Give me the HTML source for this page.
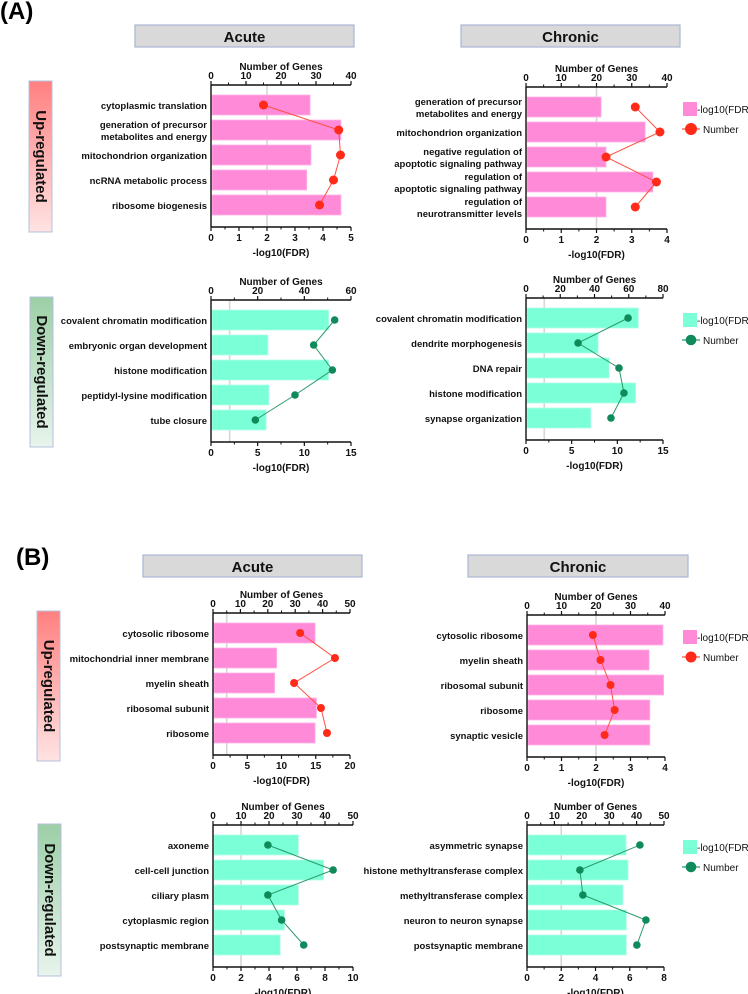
<!DOCTYPE html>
<html><head><meta charset="utf-8">
<style>
html,body{margin:0;padding:0;background:#fff;}
svg{display:block;font-family:"Liberation Sans",Arial,sans-serif;}
.cat{font-size:9.5px;font-weight:bold;fill:#111;}
.tk{font-size:10px;font-weight:bold;fill:#111;}
.ttl{font-size:10px;font-weight:bold;fill:#111;}
.leg{font-size:10px;fill:#111;}
</style></head>
<body>
<svg id="fig" width="748" height="994" viewBox="0 0 748 994" xmlns="http://www.w3.org/2000/svg">
  <text x="0" y="19" font-size="24" font-weight="bold">(A)</text>
  <text x="16" y="565" font-size="24" font-weight="bold">(B)</text>
  <defs>
    <linearGradient id="gUp" x1="0" y1="0" x2="0" y2="1"><stop offset="0" stop-color="#ff8080"/><stop offset="1" stop-color="#ffe3e3"/></linearGradient>
    <linearGradient id="gDn" x1="0" y1="0" x2="0" y2="1"><stop offset="0" stop-color="#9ccfa6"/><stop offset="1" stop-color="#e8f4ec"/></linearGradient>
  </defs>
  <g id="layer"></g>
</svg>
<script>
// ---- data (panel A: biological process; panel B: cellular component) ----
const aAcuteUpCats = ["cytoplasmic translation","generation of precursor|metabolites and energy","mitochondrion organization","ncRNA metabolic process","ribosome biogenesis"];
const aAcuteUpFdr = [3.54,4.64,3.57,3.42,4.64];
const aAcuteUpNum = [15,36.5,37,35,31];
const aChronicUpCats = ["generation of precursor|metabolites and energy","mitochondrion organization","negative regulation of|apoptotic signaling pathway","regulation of|apoptotic signaling pathway","regulation of|neurotransmitter levels"];
const aChronicUpFdr = [2.13,3.38,2.27,3.6,2.27];
const aChronicUpNum = [31,38,22.7,37,31];
const aAcuteDnCats = ["covalent chromatin modification","embryonic organ development","histone modification","peptidyl-lysine modification","tube closure"];
const aAcuteDnFdr = [12.6,6.1,12.6,6.2,5.9];
const aAcuteDnNum = [53,44,52,36,19];
const aChronicDnCats = ["covalent chromatin modification","dendrite morphogenesis","DNA repair","histone modification","synapse organization"];
const aChronicDnFdr = [12.3,7.9,9.1,12.0,7.1];
const aChronicDnNum = [59.6,30.4,54.3,57.2,49.6];
const bAcuteUpCats = ["cytosolic ribosome","mitochondrial inner membrane","myelin sheath","ribosomal subunit","ribosome"];
const bAcuteUpFdr = [14.9,9.3,9.0,15.1,14.9];
const bAcuteUpNum = [31.8,44.5,29.6,39.4,41.6];
const bChronicUpCats = ["cytosolic ribosome","myelin sheath","ribosomal subunit","ribosome","synaptic vesicle"];
const bChronicUpFdr = [3.94,3.54,3.96,3.56,3.56];
const bChronicUpNum = [19.1,21.3,24.2,25.4,22.5];
const bAcuteDnCats = ["axoneme","cell-cell junction","ciliary plasm","cytoplasmic region","postsynaptic membrane"];
const bAcuteDnFdr = [6.1,7.9,6.1,5.1,4.8];
const bAcuteDnNum = [19.6,42.9,19.6,24.5,32.4];
const bChronicDnCats = ["asymmetric synapse","histone methyltransferase complex","methyltransferase complex","neuron to neuron synapse","postsynaptic membrane"];
const bChronicDnFdr = [5.78,5.9,5.6,5.8,5.8];
const bChronicDnNum = [41.2,19.3,20.4,43.4,40.1];
// axis tick labels
const ticksNum40 = [0,10,20,30,40];
const ticksNum60 = [0,20,40,60];
const ticksNum80 = [0,20,40,60,80];
const ticksNum50 = [0,10,20,30,40,50];
const ticksFdr5 = [0,1,2,3,4,5];
const ticksFdr4 = [0,1,2,3,4];
const ticksFdr15 = [0,5,10,15];
const ticksFdr20 = [0,5,10,15,20];
const ticksFdr10 = [0,2,4,6,8,10];
const ticksFdr8 = [0,2,4,6,8];
const fdrThreshold = 2;

const NS="http://www.w3.org/2000/svg";
const L=document.getElementById('layer');
function mk(tag,attrs,parent){const e=document.createElementNS(NS,tag);for(const k in attrs)e.setAttribute(k,attrs[k]);(parent||L).appendChild(e);return e;}

function header(x,y,w,label,name){
  const g=mk('g',{});
  
  
  mk('rect',{x:x,y:y,width:w,height:22,fill:'#d9d9d9',stroke:'#a9b6d3','stroke-width':1.2},g);
  const t=mk('text',{x:x+w/2,y:y+17,'text-anchor':'middle','font-size':15,'font-weight':'bold',fill:'#111'},g);
  t.textContent=label;
}
function sideLabel(x,y,w,h,grad,label,name){
  const g=mk('g',{});
  
  
  mk('rect',{x:x,y:y,width:w,height:h,fill:'url(#'+grad+')',stroke:'#b3c0dc','stroke-width':1},g);
  const cx=x+w/2, cy=y+h/2;
  const t=mk('text',{x:cx,y:cy,'text-anchor':'middle','dominant-baseline':'central','font-size':15,'font-weight':'bold',fill:'#111',transform:'rotate(90 '+cx+' '+cy+')'},g);
  t.textContent=label;
}

function panel(o){
  const g=mk('g',{});
  
  
  const x0=o.x0,x1=o.x1,W=x1-x0,r1=o.row1;
  const xF=v=>x0+v/o.fdrMax*W;
  const xN=v=>x0+v/o.numMax*W;
  const yR=i=>r1+i*25;
  const topY=r1-20, botY=yR(4)+22;
  const th=mk('line',{x1:xF(fdrThreshold),x2:xF(fdrThreshold),y1:topY,y2:botY,stroke:'#d6d6d6','stroke-width':1.6},g);
  
  
  o.fdr.forEach((v,i)=>{
    const b=mk('rect',{x:x0+1,y:yR(i)-10,width:xF(v)-x0-1,height:20,fill:o.barColor,stroke:o.barEdge,'stroke-width':0.8},g);
    
    
  });
  mk('line',{x1:x0,x2:x0,y1:topY,y2:botY,stroke:'#111','stroke-width':1.4},g);
  mk('line',{x1:x0,x2:x1,y1:topY,y2:topY,stroke:'#111','stroke-width':1.4},g);
  mk('line',{x1:x0,x2:x1,y1:botY,y2:botY,stroke:'#111','stroke-width':1.4},g);
  const nt=o.numTicks, nStep=nt[1]-nt[0];
  nt.forEach((v,i)=>{
    mk('line',{x1:xN(v),x2:xN(v),y1:topY,y2:topY-4,stroke:'#111','stroke-width':1.2},g);
    if(i<nt.length-1) mk('line',{x1:xN(v+nStep/2),x2:xN(v+nStep/2),y1:topY,y2:topY-2.5,stroke:'#111','stroke-width':1},g);
    const t=mk('text',{x:xN(v),y:r1-26,'text-anchor':'middle',class:'tk'},g);
    t.textContent=v;
  });
  const nt2=mk('text',{x:x0+W/2,y:r1-35,'text-anchor':'middle',class:'ttl'},g);
  nt2.textContent='Number of Genes';
  
  
  const ft=o.fdrTicks, fStep=ft[1]-ft[0];
  ft.forEach((v,i)=>{
    mk('line',{x1:xF(v),x2:xF(v),y1:botY,y2:botY+4,stroke:'#111','stroke-width':1.2},g);
    if(i<ft.length-1) mk('line',{x1:xF(v+fStep/2),x2:xF(v+fStep/2),y1:botY,y2:botY+2.5,stroke:'#111','stroke-width':1},g);
    const t=mk('text',{x:xF(v),y:botY+14,'text-anchor':'middle',class:'tk','font-size':11},g);
    t.textContent=v;
  });
  const bt=mk('text',{x:x0+W/2,y:botY+29,'text-anchor':'middle',class:'ttl','font-size':10.5},g);
  bt.textContent='-log10(FDR)';
  
  
  o.cats.forEach((c,i)=>{
    const parts=c.split('|');
    const t=mk('text',{x:x0-4,y:yR(i)+(parts.length>1?-2:4),'text-anchor':'end',class:'cat'},g);
    
    
    parts.forEach((p,j)=>{const s=mk('tspan',{x:x0-4,dy:j?12:0},t);s.textContent=p;});
  });
  const pts=o.num.map((v,i)=>xN(v)+','+yR(i)).join(' ');
  const pl=mk('polyline',{points:pts,fill:'none',stroke:o.dotLine,'stroke-width':1},g);
  
  
  o.num.forEach((v,i)=>{
    const c=mk('circle',{cx:xN(v),cy:yR(i),r:o.dotR,fill:o.dotColor},g);
    
    
  });
  if(o.legend){
    const lg=mk('g',{},g);
    
    
    const ly=r1+2;
    mk('rect',{x:683,y:ly-7,width:14,height:14,fill:o.barColor},lg);
    const t1=mk('text',{x:697,y:ly+4,class:'leg'},lg);t1.textContent='-log10(FDR)';
    mk('line',{x1:682,x2:700,y1:ly+20,y2:ly+20,stroke:o.dotLine,'stroke-width':1.2},lg);
    mk('circle',{cx:691,cy:ly+20,r:o.dotR+1.5,fill:o.dotColor},lg);
    const t2=mk('text',{x:703,y:ly+24,class:'leg'},lg);t2.textContent='Number';
  }
}

const PINK='#ff8ad8',PINKE='#ffb3e6',RED='#ff2a18',REDL='#ff5040';
const TEAL='#7affd6',TEALE='#b0ffe8',GRN='#0f8a5a',GRNL='#2a9a6a';

header(135,25,219,'Acute','header-acute-a');
header(461,25,219,'Chronic','header-chronic-a');
header(143,555,219,'Acute','header-acute-b');
header(468,555,220,'Chronic','header-chronic-b');
sideLabel(29,81,23,151,'gUp','Up-regulated','side-label-up-a');
sideLabel(30,297,23,150,'gDn','Down-regulated','side-label-down-a');
sideLabel(37,611,23,150,'gUp','Up-regulated','side-label-up-b');
sideLabel(38,824,23,152,'gDn','Down-regulated','side-label-down-b');

panel({name:'a-acute-up',x0:211,x1:351,row1:105,cats:aAcuteUpCats,fdr:aAcuteUpFdr,num:aAcuteUpNum,fdrMax:5,numMax:40,fdrTicks:ticksFdr5,numTicks:ticksNum40,barColor:PINK,barEdge:PINKE,dotColor:RED,dotLine:REDL,dotR:4.5});
panel({name:'a-chronic-up',x0:526,x1:667,row1:107,cats:aChronicUpCats,fdr:aChronicUpFdr,num:aChronicUpNum,fdrMax:4,numMax:40,fdrTicks:ticksFdr4,numTicks:ticksNum40,barColor:PINK,barEdge:PINKE,dotColor:RED,dotLine:REDL,dotR:4.5,legend:true});
panel({name:'a-acute-down',x0:211,x1:351,row1:320,cats:aAcuteDnCats,fdr:aAcuteDnFdr,num:aAcuteDnNum,fdrMax:15,numMax:60,fdrTicks:ticksFdr15,numTicks:ticksNum60,barColor:TEAL,barEdge:TEALE,dotColor:GRN,dotLine:GRNL,dotR:3.8});
panel({name:'a-chronic-down',x0:526,x1:663,row1:318,cats:aChronicDnCats,fdr:aChronicDnFdr,num:aChronicDnNum,fdrMax:15,numMax:80,fdrTicks:ticksFdr15,numTicks:ticksNum80,barColor:TEAL,barEdge:TEALE,dotColor:GRN,dotLine:GRNL,dotR:3.8,legend:true});
panel({name:'b-acute-up',x0:213,x1:350,row1:633,cats:bAcuteUpCats,fdr:bAcuteUpFdr,num:bAcuteUpNum,fdrMax:20,numMax:50,fdrTicks:ticksFdr20,numTicks:ticksNum50,barColor:PINK,barEdge:PINKE,dotColor:RED,dotLine:REDL,dotR:4});
panel({name:'b-chronic-up',x0:527,x1:665,row1:635,cats:bChronicUpCats,fdr:bChronicUpFdr,num:bChronicUpNum,fdrMax:4,numMax:40,fdrTicks:ticksFdr4,numTicks:ticksNum40,barColor:PINK,barEdge:PINKE,dotColor:RED,dotLine:REDL,dotR:4,legend:true});
panel({name:'b-acute-down',x0:213,x1:353,row1:845,cats:bAcuteDnCats,fdr:bAcuteDnFdr,num:bAcuteDnNum,fdrMax:10,numMax:50,fdrTicks:ticksFdr10,numTicks:ticksNum50,barColor:TEAL,barEdge:TEALE,dotColor:GRN,dotLine:GRNL,dotR:3.8});
panel({name:'b-chronic-down',x0:527,x1:664,row1:845,cats:bChronicDnCats,fdr:bChronicDnFdr,num:bChronicDnNum,fdrMax:8,numMax:50,fdrTicks:ticksFdr8,numTicks:ticksNum50,barColor:TEAL,barEdge:TEALE,dotColor:GRN,dotLine:GRNL,dotR:3.8,legend:true});
</script>
</body></html>
